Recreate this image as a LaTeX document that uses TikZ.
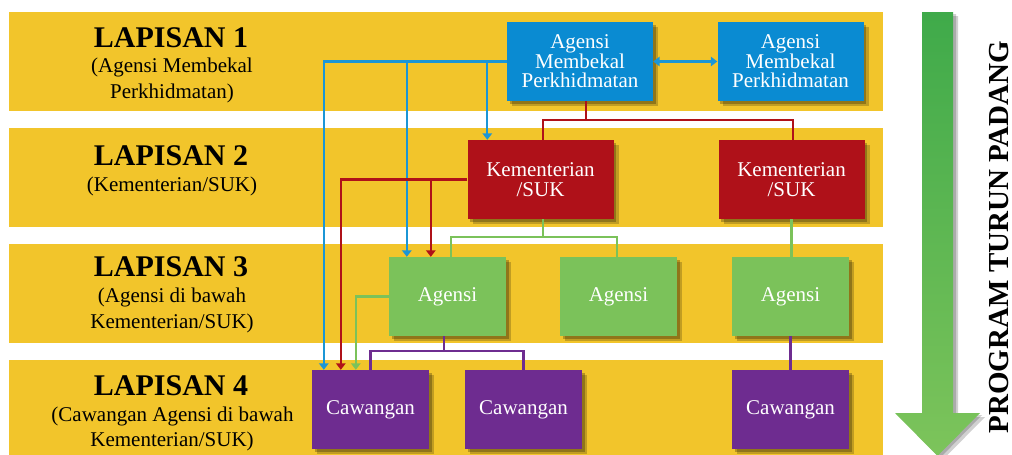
\documentclass[tikz,border=0pt]{standalone}
\usepackage{fontspec}
\setmainfont{Liberation Serif}
\usetikzlibrary{arrows.meta,shadows,calc}
\definecolor{bandyellow}{HTML}{F2C52B}
\definecolor{boxblue}{HTML}{0A8BD2}
\definecolor{lineblue}{HTML}{1B96D6}
\definecolor{boxred}{HTML}{AF1119}
\definecolor{boxgreen}{HTML}{7BC25A}
\definecolor{boxpurple}{HTML}{6E2C90}
\definecolor{arrowtop}{HTML}{3FAA4A}
\definecolor{arrowbot}{HTML}{7DC45B}
\begin{document}
\begin{tikzpicture}[x=1pt,y=-1pt,
  softshadow/.style={
    drop shadow={shadow xshift=2.5pt,shadow yshift=-2.5pt,opacity=.25,fill=black},
    drop shadow={shadow xshift=5pt,shadow yshift=-5pt,opacity=.2,fill=black}},
  boxbase/.style={inner sep=0pt,text=white,align=center,
    font=\fontsize{21}{19.5}\selectfont,minimum height=79pt,softshadow},
  widebox/.style={boxbase,minimum width=146pt},
  narrowbox/.style={boxbase,minimum width=117pt},
  conn/.style={line width=2.2pt},
  tip/.tip={Triangle[width=9.5pt,length=6.5pt]},
  bl/.style={conn,draw=lineblue},
  rd/.style={conn,draw=boxred},
  gr/.style={conn,draw=boxgreen},
  pu/.style={conn,draw=boxpurple},
  titletext/.style={anchor=base,font=\bfseries\fontsize{30}{30}\selectfont,text=black},
  subtext/.style={anchor=base,font=\fontsize{21}{25}\selectfont,text=black},
]
\useasboundingbox (0,0) rectangle (1012,455);
% bands
\fill[bandyellow] (9,12) rectangle (883,111);
\fill[bandyellow] (9,128) rectangle (883,227);
\fill[bandyellow] (9,244) rectangle (883,343);
\fill[bandyellow] (9,360) rectangle (883,455);

% layer labels
\node[titletext] (t1) at (171,47) {LAPISAN 1};
\node[subtext] (s1a) at (172,72) {(Agensi Membekal};
\node[subtext] (s1b) at (172,98) {Perkhidmatan)};
\node[titletext] (t2) at (171,165) {LAPISAN 2};
\node[subtext] (s2a) at (172,191) {(Kementerian/SUK)};
\node[titletext] (t3) at (171,276) {LAPISAN 3};
\node[subtext] (s3a) at (172,302) {(Agensi di bawah};
\node[subtext] (s3b) at (172,328) {Kementerian/SUK)};
\node[titletext] (t4) at (171,395) {LAPISAN 4};
\node[subtext] (s4a) at (172.5,421) {(Cawangan Agensi di bawah};
\node[subtext] (s4b) at (172,446) {Kementerian/SUK)};

% boxes
\node[widebox,fill=boxblue] (b1) at (580,61.5) {Agensi\\Membekal\\Perkhidmatan};
\node[widebox,fill=boxblue] (b2) at (790.5,61.5) {Agensi\\Membekal\\Perkhidmatan};
\node[widebox,fill=boxred] (r1) at (540.5,179.5) {Kementerian\\/SUK};
\node[widebox,fill=boxred] (r2) at (791.5,179.5) {Kementerian\\/SUK};
\node[narrowbox,fill=boxgreen] (g1) at (447.5,296.5) {Agensi};
\node[narrowbox,fill=boxgreen] (g2) at (618.5,296.5) {Agensi};
\node[narrowbox,fill=boxgreen] (g3) at (790.5,296.5) {Agensi};
\node[narrowbox,fill=boxpurple] (p1) at (370.5,409.5) {Cawangan};
\node[narrowbox,fill=boxpurple] (p2) at (523.5,409.5) {Cawangan};
\node[narrowbox,fill=boxpurple] (p3) at (790.5,409.5) {Cawangan};

% helper coordinates on box edges
\coordinate (p1a) at ([xshift=12pt]p1.north west);
\coordinate (p1b) at ([xshift=29pt]p1.north west);
\coordinate (p1c) at ([xshift=44pt]p1.north west);
\coordinate (g1a) at ([xshift=18pt]g1.north west);
\coordinate (g1b) at ([xshift=42pt]g1.north west);
\coordinate (r1a) at ([xshift=20pt]r1.north west);
\coordinate (r1t) at ([xshift=2.5pt]r1.north);
\coordinate (r2t) at ([xshift=1.5pt]r2.north);
\coordinate (r1s) at ([xshift=2.5pt]r1.south);
\coordinate (g1t) at ([xshift=3.5pt]g1.north);
\coordinate (g2t) at ([xshift=-1.5pt]g2.north);
\coordinate (g1s) at ([xshift=-3.5pt]g1.south);
\coordinate (b1s) at ([xshift=6pt]b1.south);

% blue connectors
\draw[bl,-tip] (b1.west) -| (p1a);
\draw[bl,-tip] (b1.west -| g1a) -- (g1a);
\draw[bl,-tip] (b1.west -| r1a) -- (r1a);
\draw[bl,tip-tip] (b1.east) -- (b2.west);

% red connectors
\draw[rd] (b1s) -- ++(0,19) coordinate (rj);
\draw[rd] (r1t) |- (rj -| r2t) -- (r2t);
\draw[rd,-tip] (r1.west) -| (p1b);
\draw[rd,-tip] (r1.west -| g1b) -- (g1b);

% green connectors
\draw[gr] (r1s) -- ++(0,18) coordinate (gj);
\draw[gr] (g1t) |- (gj -| g2t) -- (g2t);
\draw[gr] (r2.south) -- (r2.south |- g3.north);
\draw[gr,-tip] (g1.west) -| (p1c);

% purple connectors
\draw[pu] (g1s) -- ++(0,15) coordinate (pj);
\draw[pu] (p1.north) |- (pj -| p2.north) -- (p2.north);
\draw[pu] (g3.south) -- (g3.south |- p3.north);

% big arrow
\fill[black,opacity=.18] (927,16) -- (958,16) -- (958,417) -- (985,417) -- (942.5,460) -- (900,417) -- (927,417) -- cycle;
\fill[black,opacity=.18] (925,14) -- (956,14) -- (956,415) -- (982,415) -- (940,458) -- (898,415) -- (925,415) -- cycle;
\shade[top color=arrowtop,bottom color=arrowbot] (922,12) -- (953,12) -- (953,413) -- (980,413) -- (937.5,456) -- (895,413) -- (922,413) -- cycle;
\node[rotate=90,inner sep=0pt,font=\bfseries\fontsize{29}{30}\selectfont,text=black] (prog) at (999.5,237) {PROGRAM TURUN PADANG};
\end{tikzpicture}
\end{document}
